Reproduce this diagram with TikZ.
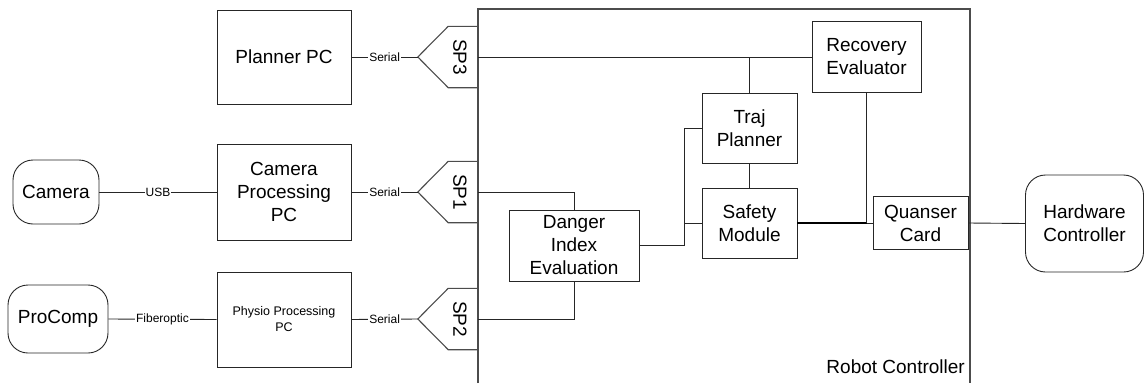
\documentclass[tikz,border=0pt]{standalone}
\usepackage{fontspec}
\setmainfont{Liberation Sans}
\begin{document}
\begin{tikzpicture}[x=1pt,y=-1pt,
  box/.style={draw=black!85, line width=0.9pt, align=center, font=\fontsize{19}{23}\selectfont, inner sep=0pt},
  rbox/.style={box, rounded corners=20pt},
  smallbox/.style={box, font=\fontsize{12.5}{16}\selectfont},
  sport/.style={inner sep=0pt, minimum width=60, minimum height=61},
  sptext/.style={rotate=-90, font=\fontsize{19}{23}\selectfont, inner sep=0pt},
  lbl/.style={fill=white, inner sep=1pt, font=\fontsize{12}{14}\selectfont},
  wire/.style={draw=black!85, line width=0.9pt},
  edge/.style={draw=black!70, line width=1.1pt},
  thickwire/.style={draw=black, line width=2pt}]
\useasboundingbox (0,0) rectangle (1145,383);

% Robot controller frame
\coordinate (rcbl) at (478,383);
\coordinate (rctl) at (478,9);
\coordinate (rctr) at (970,9);
\coordinate (rcbr) at (970,383);
\draw[edge] (rcbl) -- (rctl) -- (rctr) -- (rcbr);
\node[anchor=base east, font=\fontsize{19}{23}\selectfont, inner sep=0pt] (rc) at (965,373) {Robot Controller};

% external nodes
\node[box, minimum width=134, minimum height=94] (planner) at (284,57) {Planner PC};
\node[box, minimum width=134, minimum height=96] (campc) at (284,192) {Camera\\Processing\\PC};
\node[smallbox, minimum width=134, minimum height=95] (physio) at (284,319.5) {Physio Processing\\PC};
\node[rbox, minimum width=86, minimum height=64] (camera) at (56,192) {Camera};
\node[rbox, minimum width=100, minimum height=68] (procomp) at (58,319) {ProComp};
\node[rbox, minimum width=118, minimum height=97] (hw) at (1084.5,223.5) {Hardware\\Controller};

% serial ports
\node[sport] (sp3) at (448,57) {};
\node[sport] (sp1) at (448,192) {};
\node[sport] (sp2) at (448,319) {};
\foreach \s/\t in {sp3/SP3,sp1/SP1,sp2/SP2}{
  \draw[edge] (\s.north east) -- ([xshift=-30pt]\s.north east) -- (\s.west) -- ([xshift=-30pt]\s.south east) -- (\s.south east);
  \node[sptext] (\s t) at ([xshift=12pt]\s.center) {\t};
}

% internal modules
\node[box, minimum width=130, minimum height=71] (danger) at (574,245.5) {Danger\\Index\\Evaluation};
\node[box, minimum width=95, minimum height=70] (traj) at (749.5,128) {Traj\\Planner};
\node[box, minimum width=95, minimum height=70] (safety) at (749.5,223) {Safety\\Module};
\node[box, minimum width=109, minimum height=71] (recovery) at (866.5,56.5) {Recovery\\Evaluator};
\node[box, minimum width=95, minimum height=53] (quanser) at (920.5,223) {Quanser\\Card};

% external connections
\draw[wire] (camera.east) -- node[lbl] {USB} (campc.west);
\draw[wire] (procomp.east) -- node[lbl] {Fiberoptic} (physio.west);
\draw[wire] (planner.east) -- node[lbl] {Serial} (sp3.west);
\draw[wire] (campc.east) -- node[lbl] {Serial} (sp1.west);
\draw[wire] (physio.east) -- node[lbl] {Serial} (sp2.west);

% internal connections
\coordinate (jx) at (684,0);
\draw[wire] (sp3.east) -- (recovery.west |- sp3.east);
\draw[wire] (traj.north) -- (traj.north |- sp3.east);
\draw[wire] (traj.south) -- (safety.north);
\draw[wire] (sp1.east) -| (danger.north);
\draw[wire] (sp2.east) -| (danger.south);
\draw[wire] (danger.east) -- (danger.east -| jx) |- (traj.west);
\draw[wire] (safety.west) -- (safety.west -| jx);
\coordinate (rj) at (recovery.south |- safety.east);
\draw[thickwire] (safety.east) -- (rj);
\draw[wire] (rj) -- (quanser.west);
\draw[wire] (recovery.south) -- (rj);
\draw[wire] (quanser.east) -- (hw.west);
\end{tikzpicture}
\end{document}
